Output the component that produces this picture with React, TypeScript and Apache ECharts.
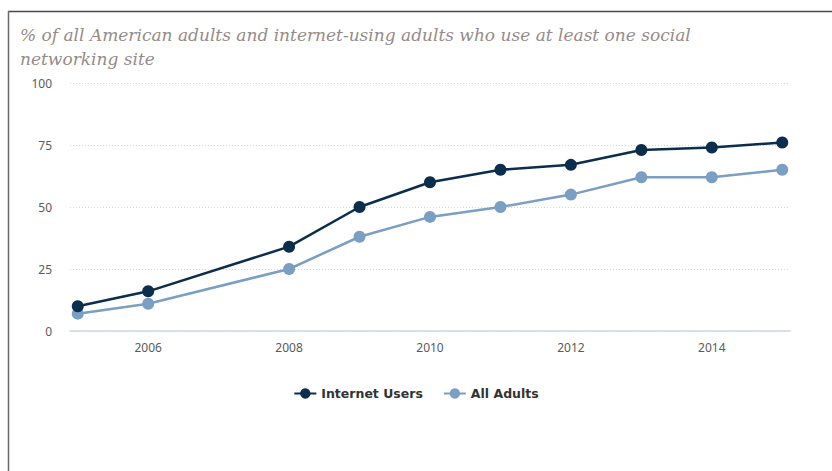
import React, { useEffect, useRef } from "react";
import * as echarts from "echarts";

const years = [2005, 2006, 2008, 2009, 2010, 2011, 2012, 2013, 2014, 2015];
const internetUsers = [10, 16, 34, 50, 60, 65, 67, 73, 74, 76];
const allAdults = [7, 11, 25, 38, 46, 50, 55, 62, 62, 65];
const xTickLabels = [2006, 2008, 2010, 2012, 2014];
const yTicks = [0, 25, 50, 75, 100];
const seriesNames = ["Internet Users", "All Adults"];
const titleText =
  "% of all American adults and internet-using adults who use at least one social\nnetworking site";

export default function App() {
  const ref = useRef<HTMLDivElement>(null);
  useEffect(() => {
    document.body.style.margin = "0";
    const chart = echarts.init(ref.current!, null, { renderer: "svg" });
    const dark = "#0c2d4c";
    const light = "#7b9ec3";
    chart.setOption({
      animation: false,
      backgroundColor: "#ffffff",
      title: {
        text: titleText,
        left: 15,
        top: 18,
        textStyle: {
          fontFamily: "DejaVu Serif",
          fontStyle: "italic",
          fontWeight: "normal",
          fontSize: 17,
          lineHeight: 24,
          color: "#958b8b",
        },
      },
      graphic: [
        { type: "line", shape: { x1: 8, y1: 11.5, x2: 832, y2: 11.5 }, style: { stroke: "#4a4a4a", lineWidth: 1.5 } },
        { type: "line", shape: { x1: 8.5, y1: 11, x2: 8.5, y2: 471 }, style: { stroke: "#6a6a6a", lineWidth: 1.5 } },
      ],
      legend: {
        data: seriesNames,
        left: "center",
        top: 382,
        itemWidth: 22,
        itemHeight: 13,
        itemGap: 20,
        textStyle: {
          fontFamily: "DejaVu Sans",
          fontWeight: "bold",
          fontSize: 12.5,
          color: "#333333",
        },
      },
      grid: { left: 70, right: 42, top: 83, bottom: 140 },
      xAxis: {
        type: "value",
        min: 2004.89,
        max: 2015.11,
        axisLine: { show: true, lineStyle: { color: "#cbd7e4", width: 1.5 } },
        axisTick: { show: false },
        splitLine: { show: false },
        axisLabel: {
          customValues: xTickLabels,
          formatter: (v: number) => String(Math.round(v)),
          fontFamily: "Noto Sans",
          fontSize: 12,
          color: "#5a5a5a",
          margin: 10,
        },
      },
      yAxis: {
        type: "value",
        min: yTicks[0],
        max: yTicks[yTicks.length - 1],
        interval: 25,
        axisLine: { show: false },
        axisTick: { show: false },
        splitLine: { show: true, lineStyle: { color: "#d8d8d8", type: [1, 2], width: 1 } },
        axisLabel: {
          fontFamily: "Noto Sans",
          fontSize: 12,
          color: "#5a5a5a",
          margin: 18,
        },
      },
      series: [
        {
          name: seriesNames[0],
          type: "line",
          data: years.map((y, i) => [y, internetUsers[i]]),
          symbol: "circle",
          symbolSize: 12,
          lineStyle: { color: dark, width: 2.5 },
          itemStyle: { color: dark },
          z: 3,
        },
        {
          name: seriesNames[1],
          type: "line",
          data: years.map((y, i) => [y, allAdults[i]]),
          symbol: "circle",
          symbolSize: 12,
          lineStyle: { color: light, width: 2.5 },
          itemStyle: { color: light },
          z: 2,
        },
      ],
    });
    return () => chart.dispose();
  }, []);
  return (
    <div
      ref={ref}
      style={{ position: "absolute", left: 0, top: 0, width: 832, height: 471 }}
    />
  );
}
